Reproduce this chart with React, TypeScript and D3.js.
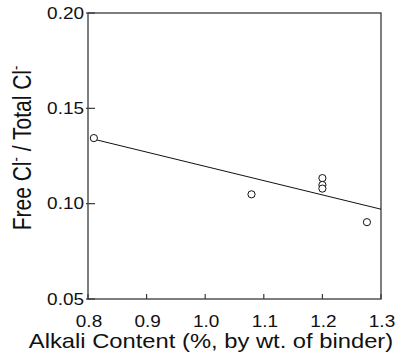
import React from "react";
import * as d3 from "d3";

const pointX = [0.81, 1.079, 1.2, 1.2, 1.2, 1.276];
const pointY = [0.1344, 0.1049, 0.1134, 0.1098, 0.1079, 0.0903];
const fitX = [0.81, 1.3];
const fitY = [0.1338, 0.0971];
const xTicks = [0.8, 0.9, 1.0, 1.1, 1.2, 1.3];
const yTicks = [0.05, 0.1, 0.15, 0.2];
const xTitle = "Alkali Content (%, by wt. of binder)";

const W = 401;
const H = 356;
const L = 88, R = 381, T = 13, B = 299;
const SX = 1.2;
const FONT = "'Liberation Sans', Arial, sans-serif";

export default function App() {
  const x = d3.scaleLinear().domain([0.8, 1.3]).range([L, R]);
  const y = d3.scaleLinear().domain([0.05, 0.2]).range([B, T]);
  const line = d3.line<number>().x((d) => x(d)).y((_, i) => y(fitY[i]));
  const axisColor = "#3a3a3a";
  return (
    <svg width={W} height={H} style={{ position: "absolute", left: 0, top: 0, display: "block" }} fontFamily={FONT}>
      <rect x={0} y={0} width={W} height={H} fill="#fff" />
      <rect x={L} y={T} width={R - L} height={B - T} fill="none" stroke={axisColor} strokeWidth={1.3} />
      {xTicks.map((t) => (
        <g key={"xt" + t}>
          <line x1={x(t)} x2={x(t)} y1={B} y2={B - 5} stroke={axisColor} strokeWidth={1.2} />
          <text transform={`translate(${x(t) + 1},${B + 28}) scale(${SX},1)`} textAnchor="middle" fontSize={15.8} fill="#111">
            {t.toFixed(1)}
          </text>
        </g>
      ))}
      {yTicks.map((t) => (
        <g key={"yt" + t}>
          <line x1={L - 2} x2={L + 7} y1={y(t)} y2={y(t)} stroke={axisColor} strokeWidth={1.2} />
          <text transform={`translate(${L - 4},${y(t) + 5.5}) scale(${SX},1)`} textAnchor="end" fontSize={15.8} fill="#111">
            {t.toFixed(2)}
          </text>
        </g>
      ))}
      <path d={line(fitX) || ""} fill="none" stroke="#111" strokeWidth={1} />
      {pointX.map((px, i) => (
        <circle key={"p" + i} cx={x(px)} cy={y(pointY[i])} r={3.6} fill="#fff" stroke="#111" strokeWidth={1} />
      ))}
      <text transform={`translate(211,348) scale(${SX},1)`} textAnchor="middle" fontSize={19.8} fill="#111">
        {xTitle}
      </text>
      <text transform={`translate(30.5,148) scale(${SX},1) rotate(-90)`} textAnchor="middle" fontSize={21} fill="#111">
        <tspan>Free Cl</tspan>
        <tspan fontSize={13} dy={-8}>-</tspan>
        <tspan dy={8}> / Total Cl</tspan>
        <tspan fontSize={13} dy={-8}>-</tspan>
      </text>
    </svg>
  );
}
